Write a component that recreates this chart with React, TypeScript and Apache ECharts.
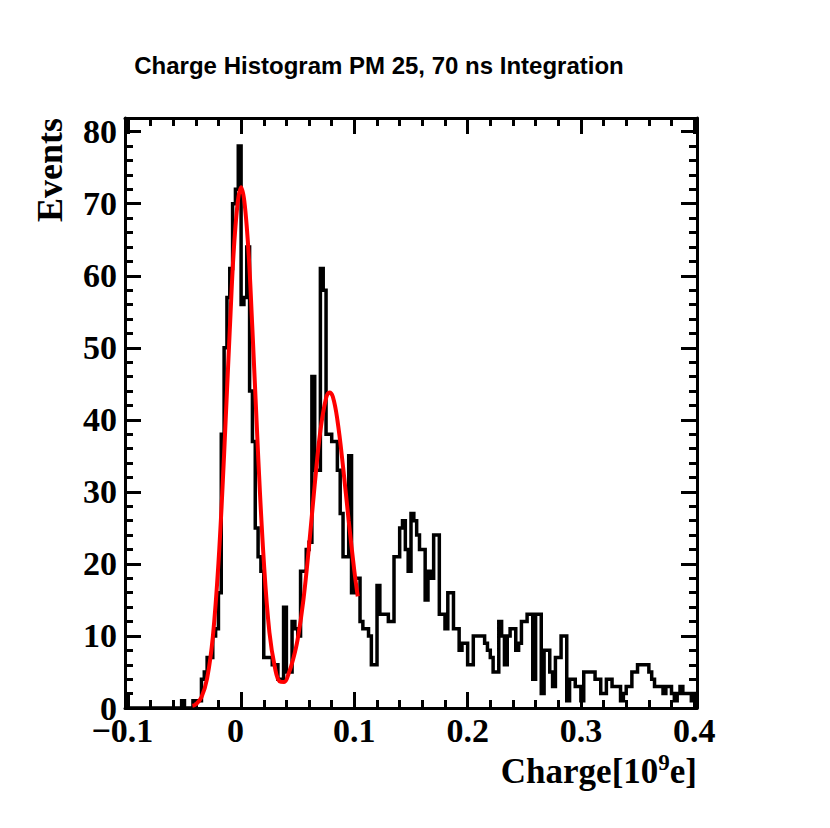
import React, { useEffect, useRef } from 'react';
import * as echarts from 'echarts';

// Histogram binning (x in units of 10^9 e)
const BIN_START = -0.1025;
const BIN_WIDTH = 0.0025;
const COUNTS = [
  0, 0, 0, 0, 0, 0, 0, 0, 0, 0,
  0, 0, 0, 0, 0, 0, 0, 0, 0, 0,
  1, 0, 0, 0, 1, 1, 1, 4, 5, 7,
  7, 10, 11, 16, 38, 50, 57, 61, 70, 72,
  78, 56, 57, 64, 44, 37, 25, 21, 19, 7,
  7, 7, 6, 6, 4, 4, 14, 5, 5, 12,
  11, 10, 19, 19, 22, 23, 46, 33, 33, 61,
  58, 38, 38, 37, 37, 33, 27, 21, 21, 35,
  16, 18, 18, 12, 11, 11, 10, 6, 6, 17,
  13, 13, 13, 12, 12, 21, 21, 25, 26, 22,
  19, 27, 26, 24, 22, 22, 15, 19, 18, 24,
  24, 13, 13, 11, 16, 16, 11, 11, 8, 9,
  9, 6, 6, 10, 10, 10, 10, 9, 8, 7,
  5, 5, 12, 10, 6, 10, 11, 11, 8, 9,
  12, 12, 13, 13, 4, 13, 13, 2, 8, 8,
  5, 3, 7, 7, 10, 10, 1, 4, 4, 3,
  3, 1, 5, 5, 5, 5, 4, 4, 2, 2,
  4, 4, 3, 3, 3, 1, 2, 3, 3, 5,
  5, 6, 6, 6, 6, 5, 4, 3, 3, 3,
  2, 3, 3, 2, 1, 2, 3, 2, 2, 2,
  1, 2,
];

// Fit curve
const FIT_X = [-0.043, -0.04, -0.035, -0.03, -0.025, -0.02, -0.015, -0.01, -0.005, 0, 0.005, 0.01, 0.015, 0.02, 0.025, 0.03, 0.034, 0.038, 0.042, 0.046, 0.05, 0.055, 0.06, 0.065, 0.07, 0.075, 0.078, 0.081, 0.085, 0.09, 0.095, 0.1, 0.103];
const FIT_Y = [0.3, 0.5, 1.5, 4.1, 9.8, 20.1, 35.2, 52.5, 66.8, 72.3, 66.8, 52.5, 35.2, 20.5, 10.5, 5.5, 3.7, 3.6, 4.8, 6.8, 9.6, 15.0, 22.5, 31.0, 38.5, 43.0, 43.8, 43.2, 40.0, 33.5, 26.0, 19.0, 15.5];

const X_MIN = -0.1025;
const X_MAX = 0.4025;
const Y_MIN = 0;
const Y_MAX = 81.9;

const X_MAJOR = [-0.1, 0, 0.1, 0.2, 0.3, 0.4];
const X_LABELS = ['\u22120.1', '0', '0.1', '0.2', '0.3', '0.4'];
const X_MINOR = [-0.08, -0.06, -0.04, -0.02, 0.02, 0.04, 0.06, 0.08, 0.12, 0.14, 0.16, 0.18, 0.22, 0.24, 0.26, 0.28, 0.32, 0.34, 0.36, 0.38];
const Y_MAJOR = [0, 10, 20, 30, 40, 50, 60, 70, 80];
const Y_LABELS = ['0', '10', '20', '30', '40', '50', '60', '70', '80'];
const Y_MINOR = [2, 4, 6, 8, 12, 14, 16, 18, 22, 24, 26, 28, 32, 34, 36, 38, 42, 44, 46, 48, 52, 54, 56, 58, 62, 64, 66, 68, 72, 74, 76, 78];

const TITLE = 'Charge Histogram PM 25, 70 ns Integration';
const Y_TITLE = 'Events';

export default function App() {
  const ref = useRef<HTMLDivElement>(null);

  useEffect(() => {
    const chart = echarts.init(ref.current as HTMLDivElement, null, { renderer: 'svg' });

    const histData: number[][] = [];
    for (let i = 0; i < COUNTS.length; i++) histData.push([BIN_START + i * BIN_WIDTH, COUNTS[i]]);
    histData.push([BIN_START + COUNTS.length * BIN_WIDTH, COUNTS[COUNTS.length - 1]]);
    const fitData = FIT_X.map((x, i) => [x, FIT_Y[i]]);

    const serif = "'Liberation Serif', 'Times New Roman', serif";
    const sans = "'Liberation Sans', Arial, sans-serif";
    const black = { color: '#000', width: 3 };
    const MAJ = 16;
    const MIN = 8;

    const labelStyle = { color: '#000', fontFamily: serif, fontWeight: 'bold' as const, fontSize: 34 };

    const xAxis = (position: string, ticks: number[], len: number, withLine: boolean, withLabels: boolean) => ({
      type: 'value',
      min: X_MIN,
      max: X_MAX,
      position,
      axisLine: { show: withLine, onZero: false, lineStyle: black },
      axisTick: { show: true, inside: true, length: len, customValues: ticks, lineStyle: black },
      axisLabel: withLabels
        ? {
            show: true,
            customValues: X_MAJOR,
            margin: 5,
            ...labelStyle,
            formatter: (v: number) => {
              const idx = X_MAJOR.findIndex((t) => Math.abs(t - v) < 1e-9);
              const s = idx >= 0 ? X_LABELS[idx] : '';
              return v <= 0 ? `{l|${s}}` : s;
            },
            rich: { l: { ...labelStyle, padding: [0, 11, 0, 0] } },
          }
        : { show: false },
      splitLine: { show: false },
    });

    const yAxis = (position: string, ticks: number[], len: number, withLine: boolean, withLabels: boolean) => ({
      type: 'value',
      min: Y_MIN,
      max: Y_MAX,
      position,
      axisLine: { show: withLine, onZero: false, lineStyle: black },
      axisTick: { show: true, inside: true, length: len, customValues: ticks, lineStyle: black },
      axisLabel: withLabels
        ? {
            show: true,
            customValues: Y_MAJOR,
            margin: 8,
            padding: [6, 0, 0, 0],
            ...labelStyle,
            formatter: (v: number) => {
              const idx = Y_MAJOR.findIndex((t) => Math.abs(t - v) < 1e-9);
              return idx >= 0 ? Y_LABELS[idx] : '';
            },
          }
        : { show: false },
      splitLine: { show: false },
    });

    chart.setOption({
      animation: false,
      backgroundColor: '#fff',
      grid: { left: 125, top: 118, width: 572, height: 590, containLabel: false, outerBoundsMode: 'none' },
      xAxis: [
        xAxis('bottom', X_MAJOR, MAJ, true, true),
        xAxis('bottom', X_MINOR, MIN, false, false),
        xAxis('top', X_MAJOR, MAJ, true, false),
        xAxis('top', X_MINOR, MIN, false, false),
      ],
      yAxis: [
        yAxis('left', Y_MAJOR, MAJ, true, true),
        yAxis('left', Y_MINOR, MIN, false, false),
        yAxis('right', Y_MAJOR, MAJ, true, false),
        yAxis('right', Y_MINOR, MIN, false, false),
      ],
      series: [
        {
          type: 'line',
          xAxisIndex: 0,
          yAxisIndex: 0,
          data: histData,
          step: 'end',
          symbol: 'none',
          clip: true,
          lineStyle: { color: '#000', width: 3.5, join: 'miter' },
          z: 2,
        },
        {
          type: 'line',
          xAxisIndex: 0,
          yAxisIndex: 0,
          data: fitData,
          smooth: 0.4,
          symbol: 'none',
          clip: true,
          lineStyle: { color: '#ff0000', width: 4 },
          z: 3,
        },
      ],
      graphic: [
        {
          type: 'text',
          x: 379,
          y: 65,
          style: {
            text: TITLE,
            fontFamily: sans,
            fontWeight: 'bold',
            fontSize: 24,
            fill: '#000',
            textAlign: 'center',
            textVerticalAlign: 'middle',
          },
        },
        {
          type: 'text',
          x: 50,
          y: 170,
          rotation: Math.PI / 2,
          style: {
            text: Y_TITLE,
            fontFamily: serif,
            fontWeight: 'bold',
            fontSize: 36,
            fill: '#000',
            textAlign: 'center',
            textVerticalAlign: 'middle',
          },
        },
        {
          type: 'text',
          x: 697,
          y: 771,
          style: {
            text: '{a|Charge[10}{s|9}{a|e]}',
            fill: '#000',
            textAlign: 'right',
            textVerticalAlign: 'middle',
            rich: {
              a: { fontFamily: serif, fontWeight: 'bold', fontSize: 35, lineHeight: 40, fill: '#000' },
              s: { fontFamily: serif, fontWeight: 'bold', fontSize: 23, lineHeight: 23, verticalAlign: 'top', fill: '#000' },
            },
          },
        },
      ],
    });

    return () => chart.dispose();
  }, []);

  return <div ref={ref} style={{ position: 'absolute', left: 0, top: 0, width: 830, height: 828 }} />;
}
